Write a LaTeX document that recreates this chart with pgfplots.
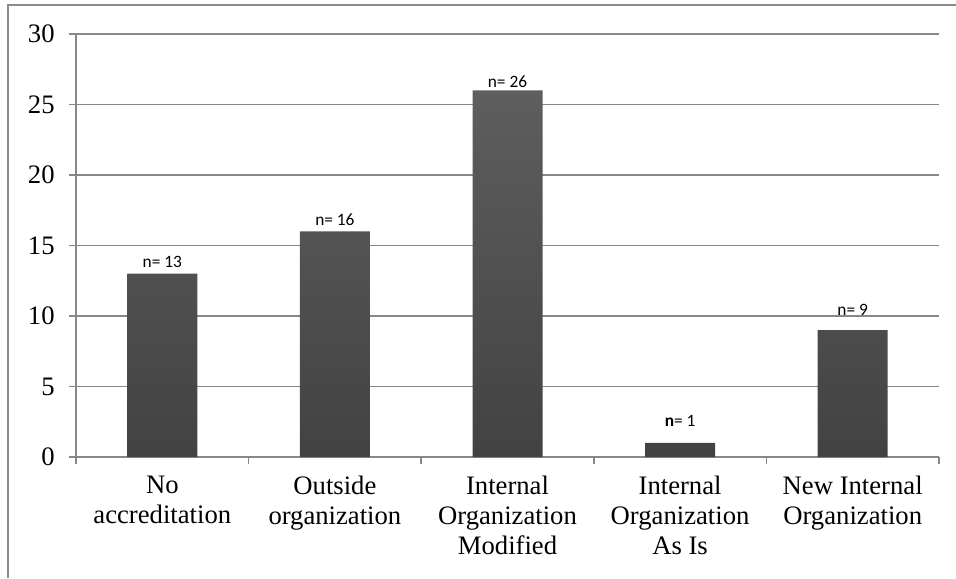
\documentclass[border=0pt]{standalone}
\usepackage{pgfplots}
\usepackage{pgfplotstable}
\usepackage{fontspec}
\pgfplotsset{compat=1.18}
\setmainfont{Liberation Serif}
\newfontfamily\calib{Carlito}
\definecolor{gridgray}{HTML}{888888}
\definecolor{framegray}{HTML}{8C8C8C}
\definecolor{bartop}{HTML}{5E5E5E}
\definecolor{barbot}{HTML}{424242}

\pgfplotstableread[col sep=comma]{
x,y,off,lab
0,13,9,n= 13
1,16,9,n= 16
2,26,6.75,n= 26
3,1,16.5,\textbf{n}= 1
4,9,15,n= 9
}\accred

\begin{document}
\begin{tikzpicture}
  \useasboundingbox (-57pt,-90.75pt) rectangle (660pt,342.75pt);
  \begin{axis}[
    scale only axis,
    width=647.25pt,
    height=317.25pt,
    xmin=-0.5, xmax=4.5,
    ymin=0, ymax=30,
    ytick={0,5,...,30},
    % ticks sit between categories; the names are shifted half a slot right
    xtick={-0.5,0.5,1.5,2.5,3.5,4.5},
    xticklabels={No\\accreditation, Outside\\organization, Internal\\Organization\\Modified, Internal\\Organization\\As Is, New Internal\\Organization, {}},
    axis lines=left,
    axis line style={gridgray, line width=1.1pt, -},
    ymajorgrids=true,
    grid style={gridgray, line width=1.1pt},
    major tick length=5.5pt,
    tick align=outside,
    tick style={gridgray, line width=1.1pt},
    /pgf/number format/assume math mode=true,
    ticklabel style={font=\fontsize{20}{22.5}\selectfont},
    xticklabel style={align=center, xshift=64.725pt, yshift=-5.5pt},
    yticklabel style={xshift=-7pt},
    clip=false,
  ]
    \addplot[ybar, bar width=52.5pt, draw=none, top color=bartop, bottom color=barbot,
      point meta=explicit symbolic,
      nodes near coords,
      visualization depends on={\thisrow{off} \as \laboff},
      nodes near coords style={anchor=center, yshift=\laboff pt, font=\calib\fontsize{13}{15}\selectfont, text=black},
    ] table[x=x, y=y, meta=lab] {\accred};
  \end{axis}
  \draw[framegray, line width=1.3pt] (-51pt,-91pt) -- (-51pt,339pt) -- (661pt,339pt);
\end{tikzpicture}
\end{document}
